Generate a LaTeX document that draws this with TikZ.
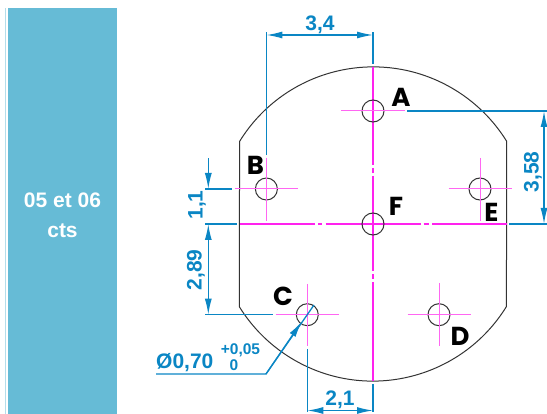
\documentclass[tikz,border=0pt]{standalone}
\usepackage{fontspec}
\setmainfont{Liberation Sans}
\newfontfamily\letterfont{Poppins}
\usetikzlibrary{arrows.meta}
\definecolor{panel}{HTML}{66BBD6}
\definecolor{strip}{HTML}{B5DDEA}
\definecolor{dimblue}{HTML}{0A86C4}
\definecolor{magA}{HTML}{FF22EE}
\definecolor{magB}{HTML}{FF66F2}
\newcommand{\fs}[1]{\fontsize{#1}{#1}\selectfont\bfseries}
\tikzset{
 outline/.style={draw=black!80,line width=1pt},
 axis/.style={draw=magA,line width=1.7pt},
 cross/.style={draw=magB,line width=1pt},
 dimline/.style={draw=dimblue,line width=1.3pt},
 dimtip/.style={-{Latex[length=16pt,width=7pt]}},
 dimboth/.style={{Latex[length=16pt,width=7pt]}-{Latex[length=16pt,width=7pt]}},
 dimtxt/.style={text=dimblue,font=\fs{21},inner sep=0pt},
 lettertxt/.style={text=black,font=\letterfont\fs{26},inner sep=0pt},
}
\begin{document}
\begin{tikzpicture}[x=1pt,y=-1pt]
\useasboundingbox (0,0) rectangle (547,414);
\fill[strip] (5,8) rectangle (6.2,414);
\fill[panel] (8,8) rectangle (117,414);
\node[text=white,font=\fs{21},align=center,inner sep=0pt] (title) at (62.5,215) {05 et 06\\[9pt]cts};
% outline
\coordinate (O) at (373,224);
\draw[outline] (239.6,141.4) arc[start angle=-148.3,end angle=-31.7,radius=157] -- (506.4,306.6) arc[start angle=31.7,end angle=148.3,radius=157] -- cycle;
% main axes
\draw[axis] (373,67)--(373,165) (373,168)--(373,173) (373,176)--(373,271.5) (373,274.5)--(373,279) (373,282)--(373,381);
\draw[axis] (240,224)--(315,224) (318,224)--(322,224) (325.5,224)--(420.5,224) (423.5,224)--(429,224) (432,224)--(507,224);
% holes
\foreach \n/\x/\y in {A/373/111,B/266.4/189,E/480/189,F/373/224,C/307.3/314.7,D/439/314.7}{
  \node[circle,draw=black!80,line width=1pt,minimum size=22pt,inner sep=0pt] (h\n) at (\x,\y) {};
}
\draw[cross] (341,111)--(405,111);
\draw[cross] (235,189)--(297.7,189) (266.4,157.7)--(266.4,221);
\draw[cross] (448.7,189)--(511.7,189) (480,158)--(480,220.7);
\draw[cross] (275.7,314.7)--(339,314.7) (307.3,284)--(307.3,346);
\draw[cross] (407.7,314.7)--(470.7,314.7) (439,283)--(439,346);
% letters
\node[lettertxt] (la) at (401,97) {A};
\node[lettertxt] (lb) at (255.5,165) {B};
\node[lettertxt] (lc) at (283,296) {C};
\node[lettertxt] (ld) at (460,336) {D};
\node[lettertxt] (le) at (491.5,212) {E};
\node[lettertxt] (lf) at (396,206) {F};
% dim 3,4
\draw[dimline] (266.4,155)--(266.4,32) (373,64)--(373,32);
\draw[dimline,dimboth] (266.4,35)--(373,35);
\node[dimtxt] (d34) at (320,25) {3,4};
% dim 3,58
\draw[dimline] (407,111)--(547,111) (509,224)--(547,224);
\draw[dimline,dimboth] (544,111)--(544,224);
\node[dimtxt,rotate=90] (d358) at (533,172) {3,58};
% dim 1,1
\draw[dimline] (205,189)--(232,189) (205,224)--(237,224) (205,314.7)--(273,314.7);
\draw[dimline,dimtip] (208.3,158.5)--(208.3,189);
\draw[dimline,dimboth] (208.3,224)--(208.3,314.7);
\node[dimtxt,rotate=90] (d11) at (197,205) {1,1};
\node[dimtxt,rotate=90] (d289) at (196,270) {2,89};
% dim 2,1
\draw[dimline] (307.3,349)--(307.3,412) (373,384)--(373,412);
\draw[dimline,dimboth] (307.3,410.5)--(373,410.5);
\node[dimtxt] (d21) at (340,400) {2,1};
% leader
\coordinate (lead0) at (156,374);
\coordinate (lead1) at (266,374);
\coordinate (lead2) at (314,305);
\coordinate (tip) at (301.7,321.7);
\draw[dimline] (lead0)--(lead1)--(lead2);
\draw[dimline,dimtip] (lead1)--(tip);
\node[dimtxt,anchor=west] (dia) at (156,363) {Ø0,70};
\node[dimtxt,font=\fs{15.5}] (tolu) at (240.5,350) {+0,05};
\node[dimtxt,font=\fs{15.5}] (toll) at (234,365) {0};
\end{tikzpicture}
\end{document}
